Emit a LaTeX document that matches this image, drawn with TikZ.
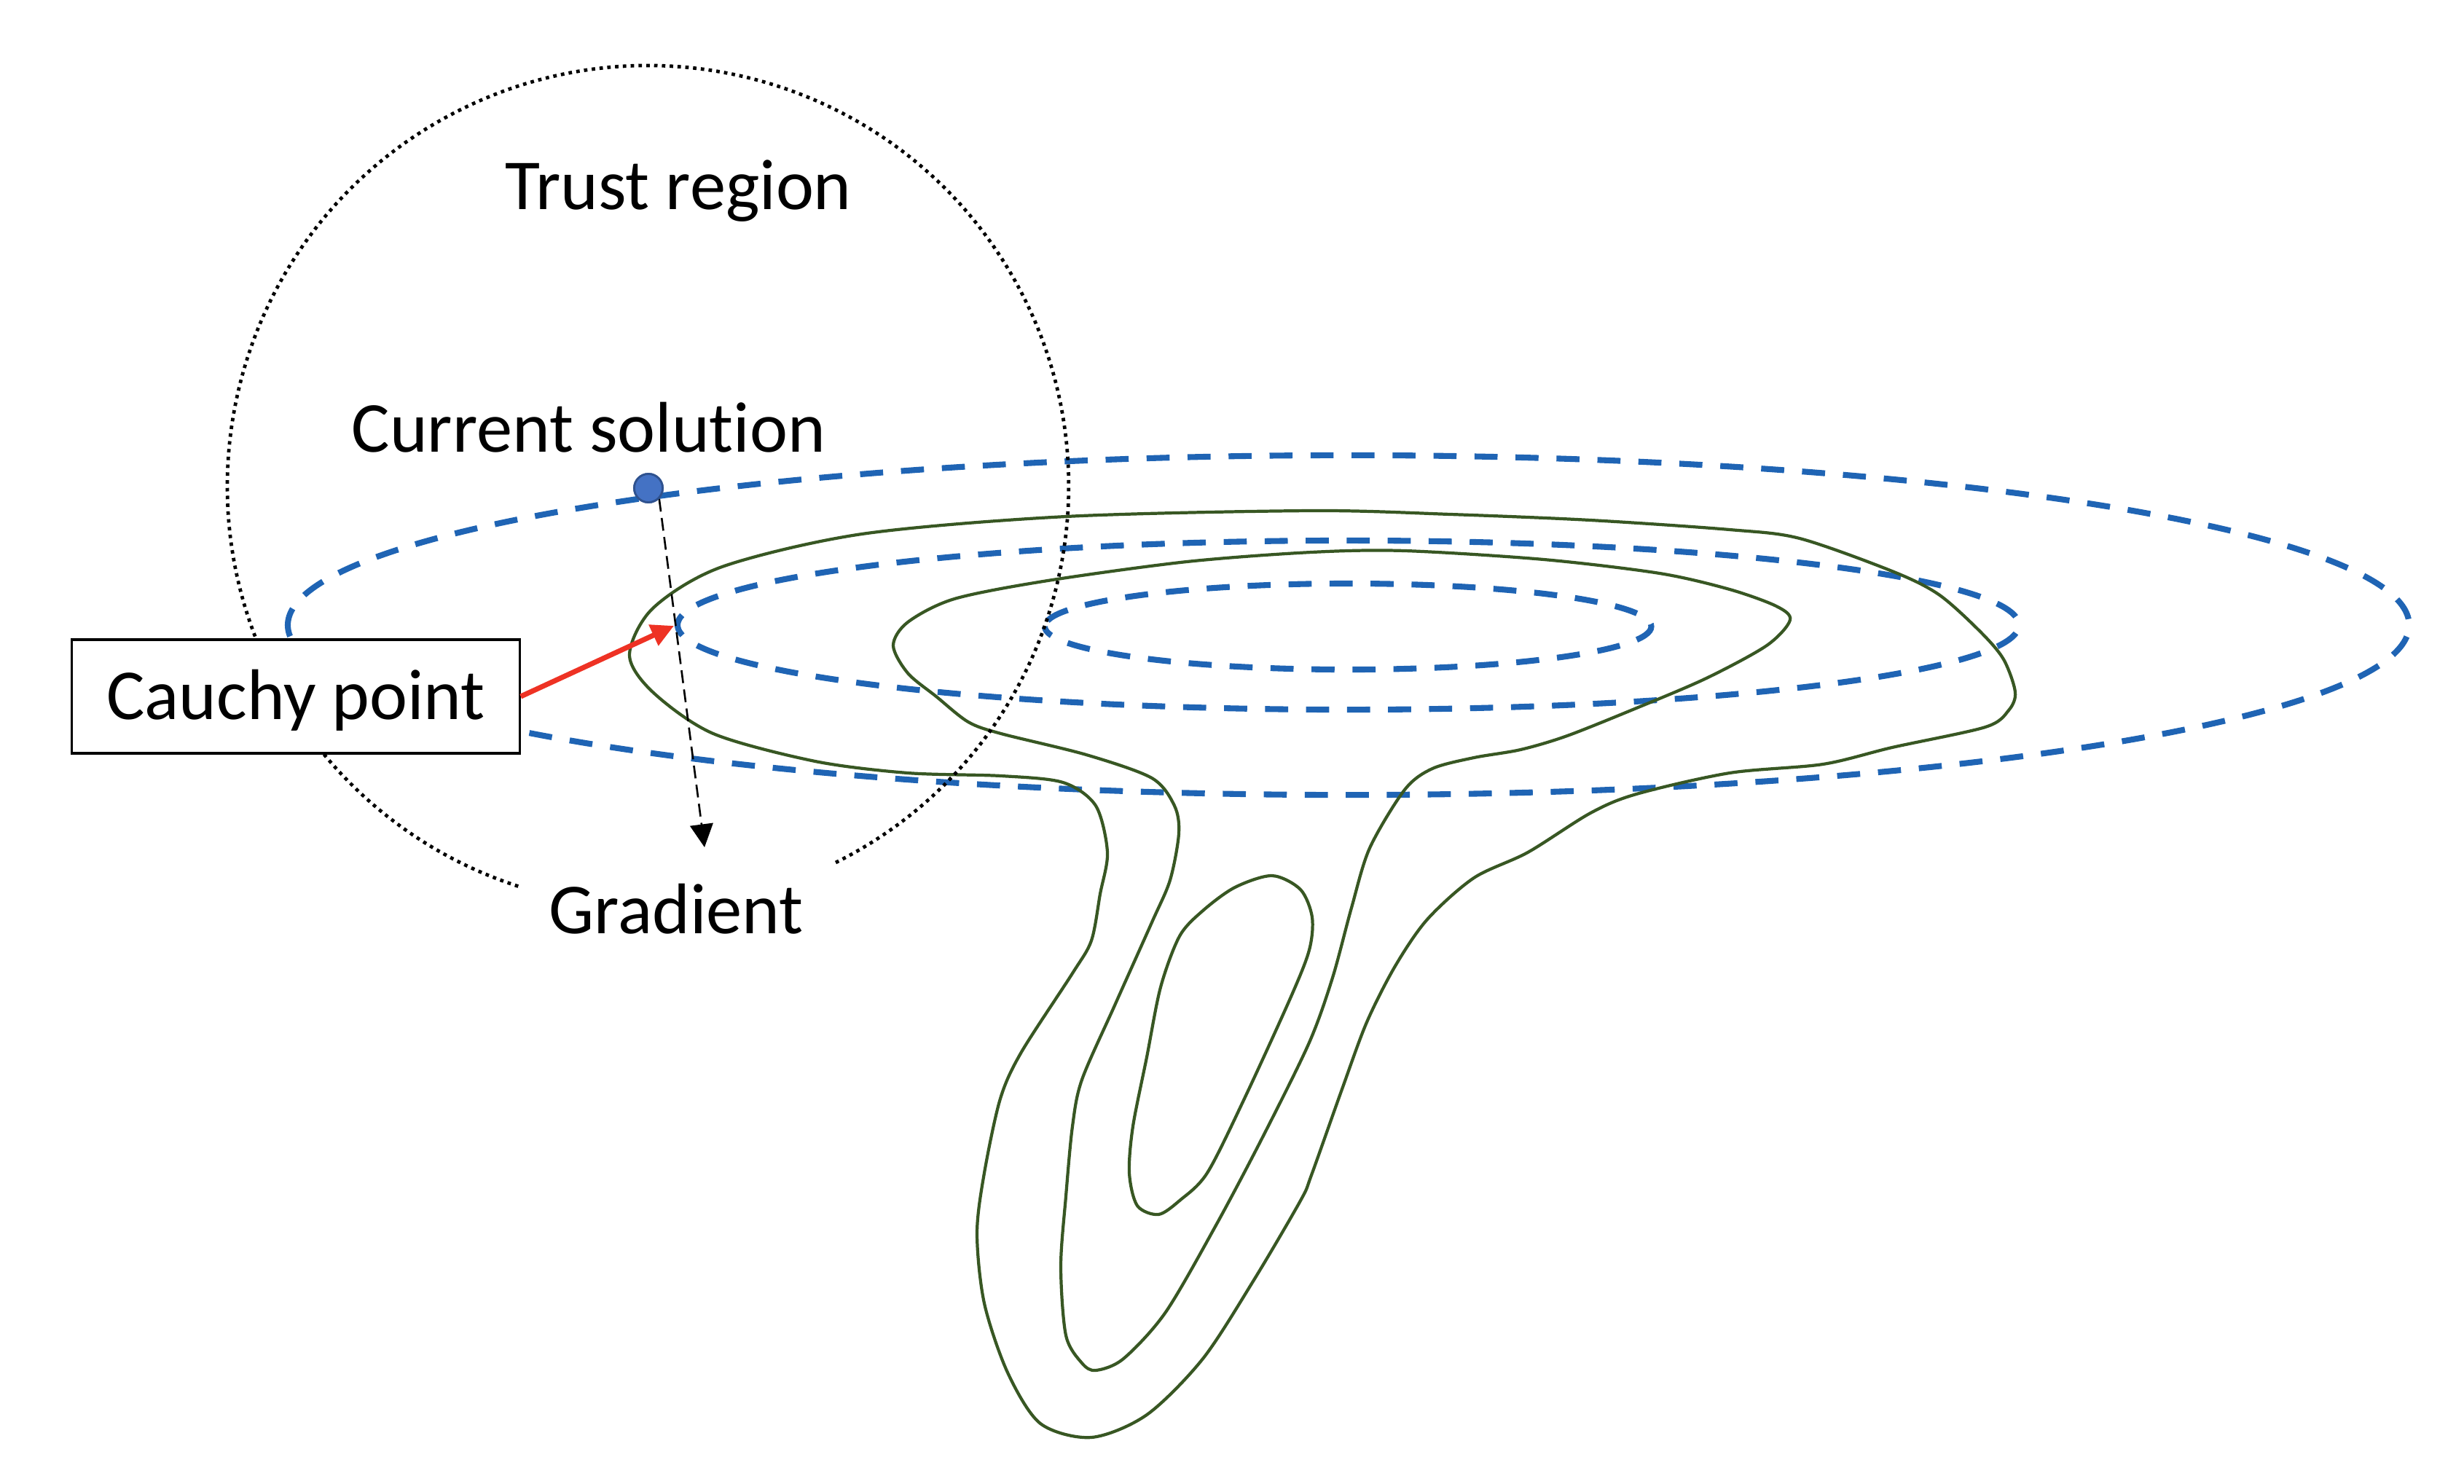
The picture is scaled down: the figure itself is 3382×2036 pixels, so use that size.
\documentclass[tikz,border=0pt]{standalone}
\usepackage{fontspec}
\setmainfont{Carlito}[Ligatures=NoCommon, RawFeature={-calt}]
\usetikzlibrary{arrows.meta}
\definecolor{contour}{RGB}{56,87,35}
\definecolor{lvl}{RGB}{31,100,180}
\definecolor{dotfill}{RGB}{68,114,196}
\definecolor{dotline}{RGB}{47,82,143}
\definecolor{arrred}{RGB}{238,50,36}
\begin{document}
\begin{tikzpicture}[x=0.01cm,y=-0.01cm,
  level/.style={draw=lvl, line width=2.3pt, dash pattern=on 9pt off 7pt, dash phase=4.5pt},
  contourline/.style={draw=contour, line width=1.2pt},
  trust/.style={draw=black, line width=1.35pt, dash pattern=on 1.35pt off 1.7pt},
  lbl/.style={font=\fontsize{28}{34}\selectfont, inner sep=0pt, anchor=base},
  cauchybox/.style={draw=black, line width=0.9pt, fill=white, font=\fontsize{28}{34}\selectfont,
     minimum width=6.14cm, minimum height=1.56cm, text height=18pt, text depth=0pt, inner sep=0pt},
  soldot/.style={circle, fill=dotfill, draw=dotline, line width=0.8pt, minimum size=0.39cm, inner sep=0pt},
  redarrow/.style={draw=arrred, line width=2pt, -{Triangle[length=8.8pt,width=8.6pt]}},
  gradarrow/.style={draw=black, line width=0.75pt, dash pattern=on 5pt off 2.5pt, -{Triangle[length=9pt,width=9pt]}}
]
\useasboundingbox (0,0) rectangle (3382,2036);

% level sets of the model (blue dashed ellipses)
\draw[level] (395,858) arc[start angle=180, end angle=540, x radius=14.55cm, y radius=2.33cm];
\draw[level] (930,858) arc[start angle=180, end angle=540, x radius=9.20cm, y radius=1.16cm];
\draw[level] (1434,860) arc[start angle=180, end angle=540, x radius=4.16cm, y radius=0.59cm];

% contours of the objective (green)
\draw[contourline] plot[smooth cycle] coordinates {
 (864,899) (896,835) (991,778) (1183,733) (1463,709) (1800,701) (1991,706) (2183,714)
 (2374,727) (2470,739) (2597,784) (2661,816) (2718,867) (2750,905) (2766,950) (2757,975)
 (2725,998) (2597,1026) (2502,1049) (2374,1061) (2246,1090) (2183,1116) (2097,1170)
 (2023,1205) (1959,1262) (1915,1326) (1876,1403) (1842,1495) (1800,1613) (1785,1648)
 (1721,1757) (1651,1865) (1574,1942) (1498,1973) (1428,1954) (1383,1884) (1351,1789)
 (1341,1693) (1351,1610) (1373,1508) (1402,1444) (1472,1336) (1498,1291) (1510,1227)
 (1520,1170) (1504,1106) (1459,1074) (1374,1065) (1246,1061) (1119,1045) (979,1007) (896,950)};
\draw[contourline] plot[smooth cycle] coordinates {
 (1226,886) (1246,854) (1310,822) (1438,797) (1629,771) (1800,758) (1928,756) (2119,768)
 (2278,787) (2374,809) (2438,832) (2457,851) (2425,886) (2342,931) (2246,972) (2151,1010)
 (2087,1029) (2023,1040) (1966,1055) (1928,1084) (1880,1164) (1855,1246) (1829,1342)
 (1797,1431) (1734,1559) (1670,1680) (1600,1801) (1542,1865) (1504,1881) (1485,1871)
 (1463,1833) (1456,1738) (1463,1642) (1472,1546) (1485,1482) (1530,1380) (1581,1266)
 (1606,1208) (1618,1144) (1612,1106) (1581,1068) (1491,1036) (1374,1007) (1329,991)
 (1285,956) (1246,924)};
\draw[contourline] plot[smooth cycle] coordinates {
 (1746,1202) (1785,1221) (1801,1259) (1797,1304) (1772,1368) (1708,1508) (1657,1610)
 (1619,1648) (1590,1667) (1561,1655) (1550,1610) (1555,1546) (1574,1451) (1593,1355)
 (1619,1285) (1651,1250) (1695,1218)};

% trust region (dotted circle, open at the bottom)
\draw[trust] (1147,1184) arc[start angle=296.5, end angle=612.2, radius=5.77cm];

% labels
\node[lbl] (trustlbl) at (931,287) {Trust region};
\node[lbl] (curlbl) at (808,620) {Current solution};
\node[lbl] (gradlbl) at (928,1281) {Gradient};

% current solution and gradient
\coordinate (gradtip) at (967,1163);
\coordinate (cptip) at (925,859);
\node[soldot] (sol) at (890,670) {};
\draw[gradarrow] (sol.-45) -- (gradtip);
\node[soldot] at (sol) {};

% Cauchy point
\node[cauchybox] (cauchy) at (406,956) {Cauchy point};
\draw[redarrow] (cauchy.east) -- (cptip);
\end{tikzpicture}
\end{document}
